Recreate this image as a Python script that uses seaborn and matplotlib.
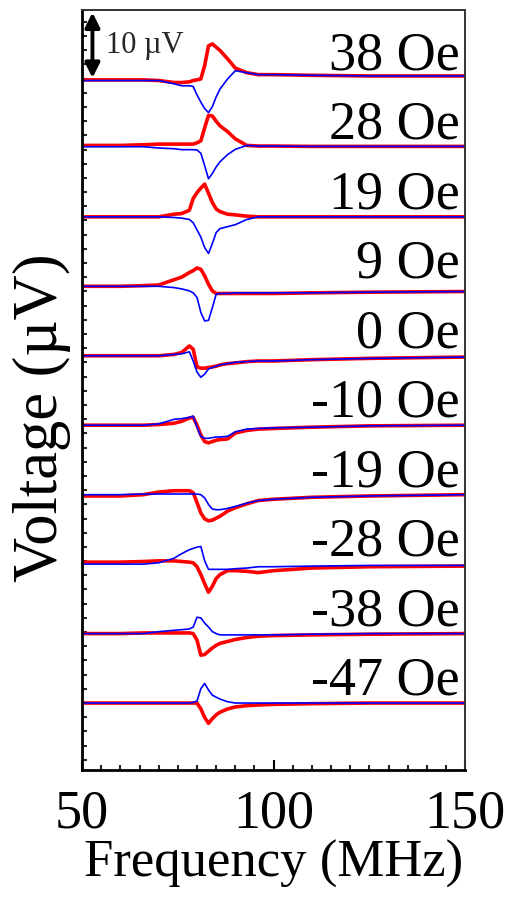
import matplotlib
matplotlib.use("Agg")
import matplotlib.pyplot as plt
from matplotlib.ticker import MultipleLocator
import seaborn as sns

# frequency grid (MHz) shared by every trace
freq = [50, 60, 66, 70, 74, 76, 78, 79, 80, 81, 82, 83, 84, 85, 86, 88, 90, 93, 96, 100, 110, 125, 150]

fields = [38, 28, 19, 9, 0, -10, -19, -28, -38, -47]
labels = ["38 Oe", "28 Oe", "19 Oe", "9 Oe", "0 Oe", "-10 Oe", "-19 Oe", "-28 Oe", "-38 Oe", "-47 Oe"]

# voltages (uV) relative to each trace baseline
red_38 = [-0.3, -0.3, -0.3, -0.4, -0.7, -0.7, -0.6, -0.4, -0.3, -0.15, 1.9, 4.9, 5.2, 4.7, 4.2, 2.9, 1.5, 0.8, 0.5, 0.5, 0.4, 0.3, 0.3]
blue_38 = [-0.4, -0.4, -0.4, -0.4, -0.9, -1.2, -1.2, -1.3, -2.6, -3.7, -4.7, -5.3, -4.4, -2.9, -1.7, -0.15, 1.1, 0.8, 0.5, 0.5, 0.4, 0.3, 0.3]
red_28 = [0.3, 0.3, 0.4, 0.5, 0.5, 0.5, 0.5, 0.5, 0.7, 1.0, 3.0, 4.9, 4.8, 4.0, 3.3, 2.4, 1.3, 0.3, 0.2, 0.2, 0.15, 0.15, 0.15]
blue_28 = [0.1, 0.1, 0.1, -0.1, -0.2, -0.35, -0.35, -0.35, -0.4, -0.9, -2.8, -4.8, -4.0, -3.0, -2.2, -1.1, -0.3, 0.3, 0.2, 0.2, 0.15, 0.15, 0.15]
red_19 = [0, 0, 0, 0, 0.4, 0.5, 1.0, 2.8, 3.7, 4.4, 5.0, 3.6, 2.2, 1.2, 0.8, 0.4, 0.3, 0.1, 0, 0, 0, 0, 0]
blue_19 = [0, 0, 0, 0, -0.1, -0.2, -0.4, -0.9, -2.0, -3.1, -4.7, -5.6, -4.1, -2.4, -1.8, -1.5, -1.2, -0.4, 0, 0, 0, 0, 0]
red_9 = [0, 0, 0.1, 0.2, 1.0, 1.4, 2.1, 2.4, 2.8, 2.6, 1.6, 0.3, -0.7, -1.1, -1.1, -1.1, -1.1, -1.1, -1.1, -1.1, -1.0, -0.9, -0.8]
blue_9 = [0, 0, 0, 0, -0.2, -0.4, -0.7, -1.0, -1.7, -4.0, -5.3, -5.2, -3.3, -1.2, -1.1, -1.1, -1.0, -1.0, -1.0, -1.0, -1.0, -0.9, -0.8]
red_0 = [0, 0, 0, 0, 0.2, 0.5, 1.5, 1.0, -1.7, -1.9, -1.9, -1.8, -1.7, -1.6, -1.4, -1.2, -1.1, -0.9, -0.8, -0.8, -0.6, -0.4, -0.2]
blue_0 = [0, 0, 0, 0, 0.2, 0.3, 0.6, -0.8, -2.5, -3.3, -2.8, -2.0, -1.8, -1.6, -1.4, -1.2, -1.0, -0.9, -0.8, -0.8, -0.6, -0.4, -0.2]
red_m10 = [0, 0, 0, 0.1, 0.3, 0.6, 1.1, 1.2, 0.0, -1.5, -2.5, -2.7, -2.5, -2.3, -2.2, -2.1, -1.2, -0.8, -0.6, -0.5, -0.3, -0.1, 0]
blue_m10 = [0, 0, 0, 0.2, 0.9, 1.0, 1.2, 1.4, -0.3, -1.7, -2.0, -2.0, -1.9, -1.8, -1.8, -1.7, -1.0, -0.6, -0.5, -0.4, -0.3, -0.1, 0]
red_m19 = [-0.2, -0.2, 0, 0.4, 0.6, 0.6, 0.6, 0.3, -1.2, -2.8, -3.7, -4.0, -3.9, -3.6, -3.3, -2.5, -2.0, -1.4, -0.9, -0.7, -0.4, -0.2, 0]
blue_m19 = [0, 0, 0.1, 0.1, 0.1, 0.1, 0.1, 0.1, 0.1, 0, -0.5, -1.5, -2.2, -2.3, -2.3, -2.1, -1.8, -1.3, -0.9, -0.7, -0.4, -0.2, 0]
red_m28 = [0.3, 0.3, 0.4, 0.5, 0.5, 0.4, 0.3, 0.2, -0.4, -1.6, -3.0, -4.3, -3.4, -2.2, -1.6, -1.0, -1.0, -1.1, -1.3, -1.0, -0.6, -0.4, -0.3]
blue_m28 = [0, 0, 0, 0.2, 0.9, 1.6, 2.2, 2.4, 2.6, 2.7, 0.5, -0.8, -0.8, -0.8, -0.8, -0.8, -0.7, -0.6, -0.4, -0.4, -0.3, -0.2, -0.2]
red_m38 = [0, 0, 0.1, 0.1, 0.1, 0.1, 0.1, 0, -1.0, -3.3, -3.2, -2.7, -2.2, -1.8, -1.5, -1.2, -0.9, -0.6, -0.4, -0.3, -0.2, -0.1, 0]
blue_m38 = [0, 0, 0, 0.3, 0.5, 0.6, 0.7, 1.0, 2.5, 2.4, 1.6, 1.0, 0.3, 0, -0.2, -0.2, -0.2, -0.2, -0.2, -0.2, -0.1, 0, 0]
red_m47 = [0, 0, 0, 0, 0, 0, 0, 0, 0, -0.9, -2.2, -3.1, -2.4, -1.8, -1.4, -0.9, -0.6, -0.4, -0.3, -0.2, -0.1, 0, 0]
blue_m47 = [0, 0, 0, 0, 0, 0, 0, 0.1, 0.3, 2.2, 3.0, 2.0, 1.2, 0.9, 0.6, 0.2, 0, 0, 0, 0, 0, 0, 0]

red_traces = [red_38, red_28, red_19, red_9, red_0, red_m10, red_m19, red_m28, red_m38, red_m47]
blue_traces = [blue_38, blue_28, blue_19, blue_9, blue_0, blue_m10, blue_m19, blue_m28, blue_m38, blue_m47]

scale_bar = 10  # uV
offset_step = 10.62

sns.set_theme(style="ticks")
plt.rcParams["font.family"] = ["Liberation Serif", "DejaVu Serif"]

fig = plt.figure(figsize=(5.1, 9), dpi=100)
ax = fig.add_axes([0.161, 0.144, 0.751, 0.845])

n = len(fields)
for i in range(n):
    off = (n - 1 - i) * offset_step
    sns.lineplot(x=freq, y=[v + off for v in red_traces[i]], color="#ff0000",
                 linewidth=2.6, ax=ax, sort=False, estimator=None)
    sns.lineplot(x=freq, y=[v + off for v in blue_traces[i]], color="#0000ff",
                 linewidth=1.2, ax=ax, sort=False, estimator=None)
    ax.text(148.5, off + 1.3, labels[i], ha="right", va="baseline", fontsize=39, color="black")

top_off = (n - 1) * offset_step
ax.annotate("", xy=(52.7, top_off + scale_bar), xytext=(52.7, top_off),
            arrowprops=dict(arrowstyle="<|-|>", color="black", lw=2.8, mutation_scale=22,
                            shrinkA=0, shrinkB=0))
ax.text(56.2, top_off + 5.0, "10 \u00b5V", ha="left", va="center", fontsize=22)

ax.set_xlim(50, 150)
ax.set_ylim(-10.3, top_off + 10.4)
ax.set_xticks([50, 100, 150])
ax.xaxis.set_minor_locator(MultipleLocator(5))
ax.yaxis.set_major_locator(MultipleLocator(2.17))
ax.set_yticklabels([])
ax.tick_params(axis="x", which="major", direction="in", length=7, width=1.5, labelsize=39, pad=13.5, colors="black")
ax.tick_params(axis="x", which="minor", direction="in", length=3.5, width=1.5, bottom=True)
ax.tick_params(axis="y", which="major", direction="in", length=3.5, width=1.5, left=True)

ax.set_xlabel("Frequency (MHz)", fontsize=38, labelpad=0, color="black")
ax.set_ylabel("")
fig.text(42 / 510, 1 - 418 / 900, "Voltage (\u00b5V)", rotation=90, ha="center", va="center",
         fontsize=45, color="black")

for side in ["left", "bottom"]:
    ax.spines[side].set_linewidth(2.0)
    ax.spines[side].set_color("black")
for side in ["top", "right"]:
    ax.spines[side].set_linewidth(1.4)
    ax.spines[side].set_color("#333333")

fig.savefig("out.png", dpi=100)
